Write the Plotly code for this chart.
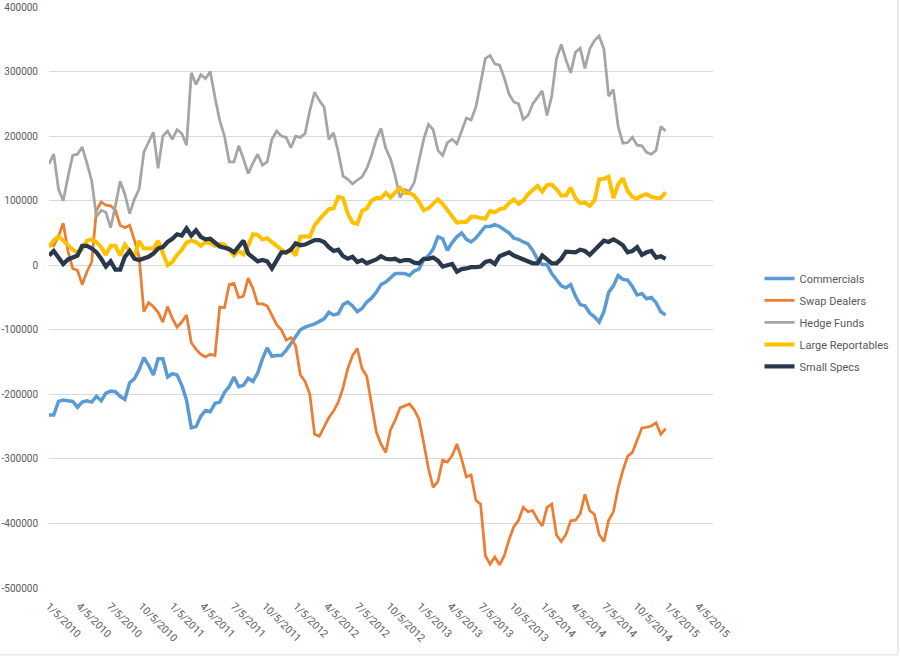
import pandas as pd
import plotly.graph_objects as go

# Bi-weekly report dates (COT, Tuesdays)
dates = pd.date_range("2010-01-05", periods=131, freq="14D")

# Net positions, thousands of contracts
commercials = [
    -232, -232, -211, -209, -210, -211, -220, -212, -210, -212, -203, -210, -198, -195, -196, -203, -208,
    -182, -176, -162, -143, -155, -170, -145, -145, -173, -168, -170, -186, -209, -252, -250, -234,
    -225, -227, -214, -212, -197, -188, -173, -188, -186, -175, -180, -167, -145, -128, -141, -140, -140,
    -132, -122, -110, -100, -96, -94, -91, -87, -83, -73, -77, -75, -61, -57, -63, -72,
    -67, -57, -51, -42, -30, -26, -19, -13, -13, -13, -16, -9, -6, 8, 15, 25, 44, 41, 23, 35, 44, 50,
    40, 36, 42, 50, 60, 60, 63, 60, 55, 50, 42,
    40, 36, 33, 23, 9, 1, 1, -13, -23, -32, -35, -30, -48, -61, -63, -74, -80, -88, -72, -42, -32, -16,
    -22, -23, -33, -46, -44, -52, -50, -58, -72, -77,
]
swap_dealers = [
    33, 30, 45, 65, 22, -5, -8, -30, -10, 5, 85, 98, 93, 92, 85, 62, 58, 62, 39, 13, -72, -58, -64, -73,
    -88, -64, -82, -96, -88, -77, -120, -130, -138,
    -142, -138, -140, -65, -66, -30, -28, -50, -48, -20, -36, -60, -60, -63, -78, -92, -100, -116, -112,
    -125, -170, -180, -200, -262, -265, -250, -236, -226, -212, -190, -160, -140, -129,
    -160, -172, -215, -258, -277, -290, -255, -240, -221, -218, -215, -224, -238, -275, -315, -344, -335,
    -302, -305, -295, -277, -300, -328, -325, -364, -370, -450, -463, -452, -464, -450, -425, -405,
    -395, -375, -382, -380, -394, -404, -375, -370, -418, -428, -417, -396, -395, -385, -355, -380, -386,
    -417, -428, -395, -382, -345, -318, -296, -290, -272, -252, -251, -249, -244, -262, -253,
]
hedge_funds = [
    157, 172, 118, 100, 137, 170, 172, 183, 158, 131, 75, 85, 82, 58, 92, 130, 110, 80, 102, 118, 175,
    190, 206, 150, 200, 208, 195, 210, 204, 186, 298, 280, 295,
    289, 300, 260, 224, 200, 160, 160, 185, 165, 142, 158, 172, 155, 160, 195, 208, 200, 198, 182, 200,
    198, 204, 240, 268, 255, 245, 195, 205, 175, 138, 133, 126,
    132, 137, 150, 170, 195, 212, 181, 165, 138, 105, 117, 115, 128, 160, 195, 218, 210, 178, 170, 190,
    195, 188, 208, 228, 225, 245, 282, 320, 325, 312, 310, 290, 265, 253,
    250, 226, 232, 250, 260, 270, 232, 262, 320, 342, 318, 298, 330, 336, 305, 335, 348, 355, 335, 262,
    272, 215, 189, 190, 198, 186, 185, 175, 172, 178, 215, 208,
]
large_reportables = [
    28, 38, 45, 38, 30, 24, 20, 25, 38, 40, 36, 28, 16, 30, 30, 15, 32, 22, 13, 38, 26, 26, 26, 38, 18,
    0, 5, 16, 24, 35, 38, 36, 30,
    36, 34, 30, 33, 32, 24, 15, 22, 17, 30, 48, 47, 40, 42, 35, 30, 24, 19, 25, 15, 44, 45, 44, 62, 71,
    78, 87, 88, 106, 104, 80, 66, 64,
    84, 88, 100, 104, 104, 112, 105, 112, 120, 112, 112, 108, 98, 85, 88, 95, 102, 95, 85, 74, 66, 67,
    67, 75, 75, 73, 72, 84, 82, 87, 88, 96, 102,
    95, 100, 110, 117, 123, 114, 124, 125, 118, 108, 108, 120, 104, 96, 97, 92, 100, 133, 134, 137, 104,
    125, 135, 115, 106, 103, 108, 110, 106, 104, 104, 113,
]
small_specs = [
    15, 22, 12, 2, 9, 12, 15, 30, 30, 26, 20, 10, -2, 6, -7, -7, 13, 22, 10, 8, 10, 13, 18, 26, 28, 36,
    41, 48, 46, 57, 46, 54, 44,
    40, 41, 34, 29, 27, 25, 20, 30, 38, 18, 12, 6, 8, 6, -5, 8, 20, 20, 24, 34, 31, 32, 35, 39, 39, 36,
    28, 22, 24, 14, 10, 13, 5,
    8, 3, 6, 9, 14, 10, 9, 10, 6, 8, 8, 4, 3, 10, 10, 12, 7, -2, 0, 2, -10, -6, -5, -3, -3, -2, 5, 7, 2,
    14, 17, 20, 15,
    12, 8, 6, 3, 3, 15, 9, 3, 3, 10, 21, 20, 20, 24, 22, 16, 23, 31, 38, 36, 40, 36, 31, 20, 22, 28, 16,
    20, 22, 12, 14, 10,
]

series_names = ["Commercials", "Swap Dealers", "Hedge Funds", "Large Reportables", "Small Specs"]
series_values = [commercials, swap_dealers, hedge_funds, large_reportables, small_specs]
series_colors = ["#5B9BD5", "#ED7D31", "#A5A5A5", "#FFC000", "#2A384C"]
series_widths = [3.5, 2.75, 2.75, 4, 4.25]

x_tick_labels = [
    "1/5/2010", "4/5/2010", "7/5/2010", "10/5/2010",
    "1/5/2011", "4/5/2011", "7/5/2011", "10/5/2011",
    "1/5/2012", "4/5/2012", "7/5/2012", "10/5/2012",
    "1/5/2013", "4/5/2013", "7/5/2013", "10/5/2013",
    "1/5/2014", "4/5/2014", "7/5/2014", "10/5/2014",
    "1/5/2015", "4/5/2015",
]
y_tick_values = [400000, 300000, 200000, 100000, 0, -100000, -200000, -300000, -400000, -500000]
y_tick_labels = [str(v) for v in y_tick_values]

FONT = "Roboto"
GREY_TEXT = "#595959"
GRID = "#D9D9D9"

fig = go.Figure()
for name, vals, color, w in zip(series_names, series_values, series_colors, series_widths):
    fig.add_trace(go.Scatter(
        x=dates, y=[v * 1000 for v in vals], name=name, mode="lines",
        line=dict(color=color, width=w), legendgroup=name,
    ))

fig.update_layout(
    width=901, height=656,
    margin=dict(l=49, r=188, t=7, b=68, autoexpand=False),
    paper_bgcolor="white", plot_bgcolor="white",
    font=dict(family=FONT, size=11, color=GREY_TEXT),
    showlegend=True,
    legend=dict(
        x=1.07, xanchor="left", y=0.457, yanchor="middle",
        font=dict(family=FONT, size=11, color=GREY_TEXT),
        tracegroupgap=3, bgcolor="rgba(0,0,0,0)",
    ),
    xaxis=dict(
        type="date", automargin=False,
        range=["2010-01-05", "2015-05-19"],
        tickvals=pd.to_datetime(x_tick_labels, format="%m/%d/%Y"),
        ticktext=x_tick_labels,
        tickangle=45,
        showgrid=False, zeroline=False, showline=False,
        ticks="outside", ticklen=7, tickcolor="rgba(0,0,0,0)",
        tickfont=dict(family=FONT, size=10.5, color=GREY_TEXT),
    ),
    yaxis=dict(
        automargin=False,
        range=[-500000, 400000],
        tickvals=y_tick_values,
        ticktext=y_tick_labels,
        showgrid=True, gridcolor=GRID, gridwidth=1,
        zeroline=True, zerolinecolor=GRID, zerolinewidth=1,
        showline=False,
        ticks="outside", ticklen=8, tickcolor="rgba(0,0,0,0)",
        tickfont=dict(family=FONT, size=10, color=GREY_TEXT),
    ),
    shapes=[
        dict(type="line", xref="paper", yref="paper", x0=1.2786, x1=1.2786, y0=-0.115, y1=1.02,
             line=dict(color=GRID, width=1)),
        dict(type="line", xref="paper", yref="paper", x0=-0.08, x1=1.2786, y0=-0.115, y1=-0.115,
             line=dict(color=GRID, width=1)),
    ],
)

fig.write_html(
    "out.html",
    config={"displayModeBar": False},
    post_script="document.body.style.margin='0';",
)
